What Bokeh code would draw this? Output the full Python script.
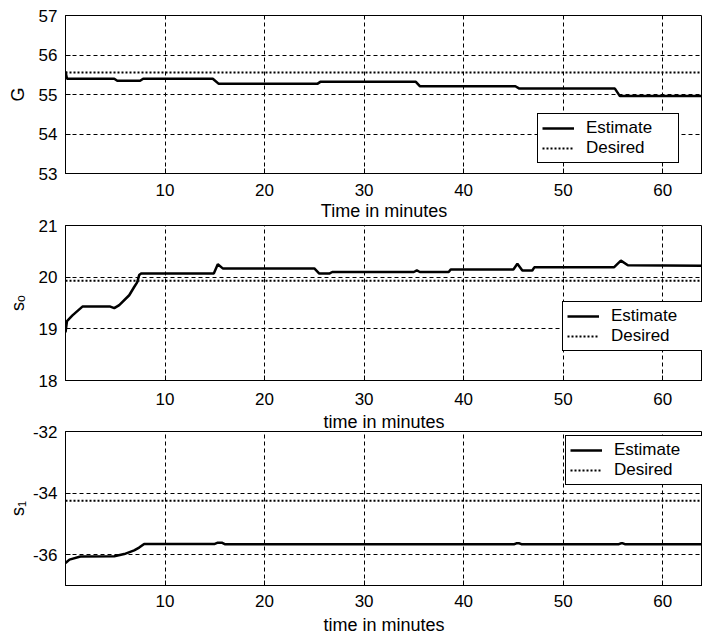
from bokeh.plotting import figure
from bokeh.layouts import column
from bokeh.models import FixedTicker, Range1d
from bokeh.embed import file_html
from bokeh.resources import INLINE

FONT = "Liberation Sans"

x_ticks = [10, 20, 30, 40, 50, 60]
t_span = [0, 64]

# Panel 1: G
g_ticks = [53, 54, 55, 56, 57]
g_t = [0, 0.15, 4.9, 5.2, 7.5, 7.8, 14.8, 15.4, 25.3, 25.6, 35.2, 35.6, 45.2, 45.6, 55.2, 55.7, 64]
g_est = [55.58, 55.40, 55.40, 55.35, 55.35, 55.40, 55.40, 55.27, 55.27, 55.32, 55.32,
         55.21, 55.21, 55.15, 55.15, 54.96, 54.96]
g_des = [55.56, 55.56]

# Panel 2: s0
s0_ticks = [18, 19, 20, 21]
s0_t = [0, 0.15, 0.7, 1.7, 4.5, 4.9, 5.4, 6.4, 6.9, 7.2, 7.4, 7.6,
        14.9, 15.3, 15.8, 25.0, 25.5, 26.5, 26.8, 35.0, 35.3, 35.6, 38.5, 38.7,
        45.0, 45.4, 45.9, 46.9, 47.1, 55.1, 55.8, 56.5, 64]
s0_est = [18.93, 19.15, 19.26, 19.43, 19.43, 19.40, 19.46, 19.65, 19.81, 19.90, 20.04, 20.07,
          20.07, 20.25, 20.17, 20.17, 20.07, 20.07, 20.10, 20.10, 20.13, 20.10, 20.10, 20.15,
          20.15, 20.26, 20.13, 20.13, 20.19, 20.19, 20.32, 20.23, 20.22]
s0_des = [19.93, 19.93]

# Panel 3: s1
s1_ticks = [-36, -34, -32]
s1_tick_labels = {-36: "-36", -34: "-34", -32: "-32"}
s1_t = [0, 0.4, 1.5, 4.9, 5.9, 6.9, 7.4, 7.9, 15.0, 15.3, 15.7, 16.0,
        45.1, 45.3, 45.6, 45.8, 55.6, 55.8, 56.0, 56.2, 64]
s1_est = [-36.27, -36.16, -36.06, -36.05, -35.98, -35.86, -35.77, -35.65, -35.65, -35.61,
          -35.61, -35.66, -35.66, -35.63, -35.63, -35.66, -35.66, -35.63, -35.63, -35.66, -35.66]
s1_des = [-34.25, -34.25]


def panel(height, top, bottom, yr, yticks, ylabel, xlabel, t, est, des, loc,
          ylab_standoff, tick_standoff, xlab_standoff, overrides=None):
    p = figure(width=702, height=height, x_range=Range1d(0, 64), y_range=Range1d(*yr),
               output_backend="svg", toolbar_location=None,
               min_border_left=65, min_border_right=0,
               min_border_top=top, min_border_bottom=bottom)
    p.background_fill_color = "white"
    p.border_fill_color = None
    p.outline_line_color = "black"
    p.outline_line_width = 1
    p.outline_line_alpha = 1

    p.xaxis.ticker = FixedTicker(ticks=x_ticks)
    p.yaxis.ticker = FixedTicker(ticks=yticks)
    if overrides:
        p.yaxis.major_label_overrides = overrides
    for ax in (p.xaxis[0], p.yaxis[0]):
        ax.axis_line_color = "black"
        ax.major_tick_line_color = "black"
        ax.major_tick_in = 5
        ax.major_tick_out = 0
        ax.minor_tick_line_color = None
        ax.major_label_text_font = FONT
        ax.major_label_text_font_size = "17px"
        ax.major_label_text_color = "black"
        ax.axis_label_text_font = FONT
        ax.axis_label_text_font_size = "18px"
        ax.axis_label_text_font_style = "normal"
        ax.axis_label_text_color = "black"
    p.xaxis.major_label_standoff = tick_standoff
    p.xaxis.axis_label_standoff = xlab_standoff
    p.yaxis.major_label_standoff = 8
    p.yaxis.axis_label_standoff = ylab_standoff
    p.xaxis.axis_label = xlabel
    p.yaxis.axis_label = ylabel

    for g in (p.xgrid[0], p.ygrid[0]):
        g.grid_line_color = "black"
        g.grid_line_width = 1
        g.grid_line_dash = "4 3"
        g.grid_line_alpha = 1

    p.line(t, est, line_color="black", line_width=2.5, legend_label="Estimate")
    p.line(t_span, des, line_color="black", line_width=2, line_dash="2 2", legend_label="Desired")

    lg = p.legend[0]
    lg.location = loc
    lg.border_line_color = "black"
    lg.border_line_width = 1
    lg.border_line_alpha = 1
    lg.background_fill_color = "white"
    lg.background_fill_alpha = 1
    lg.label_text_font = FONT
    lg.label_text_font_size = "17px"
    lg.label_text_color = "black"
    lg.padding = 4
    lg.spacing = 0
    lg.glyph_width = 32
    lg.glyph_height = 20
    lg.label_height = 20
    lg.label_width = 88
    lg.label_standoff = 12
    lg.margin = 0
    return p


p1 = panel(223, 15, 50, (53, 57), g_ticks, "G", "Time in minutes",
           g_t, g_est, g_des, (472, 10), 8, 10, 2)
p2 = panel(223, 14, 53, (18, 21), s0_ticks, "s\u2092", "time in minutes",
           s0_t, s0_est, s0_des, (497, 29), 8, 12, 4)
p2.margin = (-12, 0, 0, 0)
p3 = panel(222, 12, 56, (-37, -32), s1_ticks, "s\u2081", "time in minutes",
           s1_t, s1_est, s1_des, (500, 100), 2, 9, 5, s1_tick_labels)
p3.margin = (-15, 0, 0, 0)

layout = column(p1, p2, p3, spacing=0)
open("out.html", "w").write(file_html(layout, INLINE))
